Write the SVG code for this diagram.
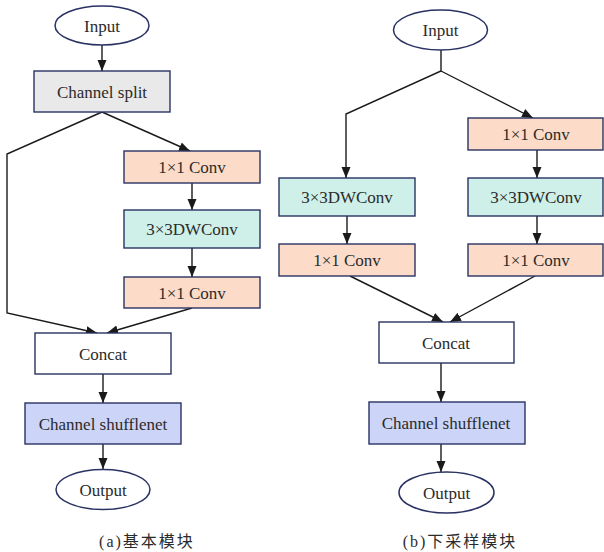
<svg xmlns="http://www.w3.org/2000/svg" width="604" height="552" viewBox="0 0 604 552">
<style>
.box{stroke:#2a3263;stroke-width:1.4}
.ell{fill:#fff;stroke:#2a3263;stroke-width:1.5}
.gray{fill:#e9e9e9}
.peach{fill:#fcdcc8}
.teal{fill:#cff0e9}
.lav{fill:#ccd5f8}
.white{fill:#fff}
text{font-family:'Liberation Serif','DejaVu Serif',serif;font-size:17px;fill:#2b2b2b;text-anchor:middle}
.cap{font-family:'Liberation Serif','Noto Sans CJK SC',serif;font-size:16px;letter-spacing:2px}
.ln{fill:none;stroke:#1a1a1a;stroke-width:1.4}
</style>
<defs>
<marker id="ah" markerUnits="userSpaceOnUse" markerWidth="12" markerHeight="12" viewBox="0 0 12 12" refX="11" refY="6" orient="auto">
<path d="M0,1.5 L11,6 L0,10.5 Z" fill="#1a1a1a"/>
</marker>
</defs>

<g id="connectors">
<line class="ln" x1="102" y1="45" x2="102" y2="71" marker-end="url(#ah)"/>
<polyline class="ln" points="102,112 7,154 7,313 97,333" marker-end="url(#ah)"/>
<line class="ln" x1="102" y1="112" x2="190" y2="151" marker-end="url(#ah)"/>
<line class="ln" x1="192" y1="183" x2="192" y2="210" marker-end="url(#ah)"/>
<line class="ln" x1="192" y1="248" x2="192" y2="277" marker-end="url(#ah)"/>
<line class="ln" x1="192" y1="308" x2="107" y2="333" marker-end="url(#ah)"/>
<line class="ln" x1="103" y1="374" x2="103" y2="403" marker-end="url(#ah)"/>
<line class="ln" x1="103" y1="444" x2="103" y2="469" marker-end="url(#ah)"/>
<polyline class="ln" points="441,50 441,71 346,114 346,178" marker-end="url(#ah)"/>
<line class="ln" x1="441" y1="71" x2="533" y2="118" marker-end="url(#ah)"/>
<line class="ln" x1="537" y1="150" x2="537" y2="178" marker-end="url(#ah)"/>
<line class="ln" x1="347" y1="216" x2="347" y2="244" marker-end="url(#ah)"/>
<line class="ln" x1="537" y1="216" x2="537" y2="244" marker-end="url(#ah)"/>
<line class="ln" x1="350" y1="276" x2="443" y2="322" marker-end="url(#ah)"/>
<line class="ln" x1="535" y1="276" x2="450" y2="322" marker-end="url(#ah)"/>
<line class="ln" x1="441" y1="363" x2="441" y2="402" marker-end="url(#ah)"/>
<line class="ln" x1="441" y1="444" x2="441" y2="472" marker-end="url(#ah)"/>
</g>

<g id="a-input"><ellipse class="ell" cx="102" cy="25.5" rx="47" ry="19.5"/><text x="102" y="31.5">Input</text></g>
<g id="a-split"><rect class="box gray" x="34" y="71" width="136" height="41"/><text x="102" y="97.5">Channel split</text></g>
<g id="a-conv1"><rect class="box peach" x="124" y="151" width="136" height="32"/><text x="192" y="173">1×1 Conv</text></g>
<g id="a-dw"><rect class="box teal" x="124" y="210" width="136" height="38"/><text x="192" y="235">3×3DWConv</text></g>
<g id="a-conv2"><rect class="box peach" x="124" y="277" width="136" height="31"/><text x="192" y="298.5">1×1 Conv</text></g>
<g id="a-concat"><rect class="box white" x="35" y="333" width="136" height="41"/><text x="103" y="359.5">Concat</text></g>
<g id="a-shuffle"><rect class="box lav" x="25" y="403" width="156" height="41"/><text x="103" y="429.5">Channel shufflenet</text></g>
<g id="a-output"><ellipse class="ell" cx="103" cy="489.5" rx="47" ry="20"/><text x="103" y="495.5">Output</text></g>
<text class="cap" x="147" y="547">(a)基本模块</text>

<g id="b-input"><ellipse class="ell" cx="440.5" cy="30" rx="47" ry="20"/><text x="440.5" y="36">Input</text></g>
<g id="b-conv1r"><rect class="box peach" x="468" y="118" width="135" height="32"/><text x="536" y="140">1×1 Conv</text></g>
<g id="b-dwl"><rect class="box teal" x="279" y="178" width="136" height="38"/><text x="347" y="203">3×3DWConv</text></g>
<g id="b-dwr"><rect class="box teal" x="468" y="178" width="135" height="38"/><text x="536" y="203">3×3DWConv</text></g>
<g id="b-conv2l"><rect class="box peach" x="279" y="244" width="136" height="32"/><text x="347" y="266">1×1 Conv</text></g>
<g id="b-conv2r"><rect class="box peach" x="468" y="244" width="135" height="32"/><text x="536" y="266">1×1 Conv</text></g>
<g id="b-concat"><rect class="box white" x="379" y="322" width="135" height="41"/><text x="446" y="348.5">Concat</text></g>
<g id="b-shuffle"><rect class="box lav" x="369" y="402" width="156" height="42"/><text x="446" y="429">Channel shufflenet</text></g>
<g id="b-output"><ellipse class="ell" cx="446.5" cy="492.5" rx="47.5" ry="20.5"/><text x="446.5" y="498.5">Output</text></g>
<text class="cap" x="460" y="547">(b)下采样模块</text>
</svg>
